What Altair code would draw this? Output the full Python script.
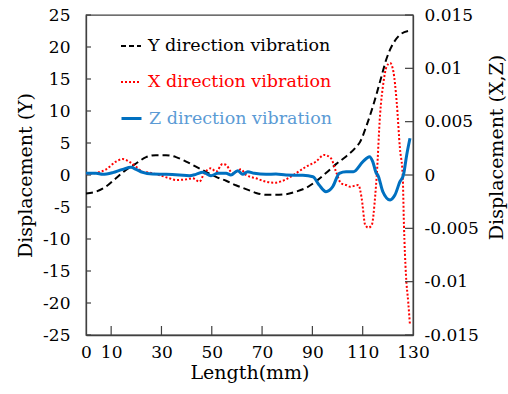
import altair as alt
import pandas as pd

# ---- data ----
y_len = [0, 4, 8, 11.9, 15.9, 19.9, 23.9, 27.8, 31.8, 35.8, 39.8, 43.7, 47.7, 51.7, 55.7,
         59.6, 63.6, 67.6, 71.6, 75.5, 79.5, 83.5, 87.5, 91.4, 95.4, 99.4, 103.4, 107, 109,
         111.6, 114.2, 116.9, 119.5, 122.2, 124.8, 128.1]
y_disp = [-2.9, -2.6, -1.8, -0.5, 0.8, 1.8, 2.8, 3.1, 3.1, 2.8, 2.1, 1.3, 0.5, -0.3, -0.9,
          -1.6, -2.2, -2.8, -3.1, -3.1, -3.0, -2.6, -2.0, -1.0, 0.3, 1.7, 2.9, 4.2, 5.2,
          7.8, 10.9, 14.6, 18.2, 20.6, 21.9, 22.5]

# X and Z displacement in units of 0.001
x_len = [0, 4, 8, 11.9, 14.6, 17.2, 19.9, 22.5, 25.2, 29.1, 33.1, 35.8, 39.8, 42.4, 45.1,
         47.0, 49.7, 51.7, 54.3, 55.7, 58.3, 61.6, 63.6, 67.6, 71.6, 74.9, 79.5, 83.5, 87.5,
         91.4, 94.7, 97.4, 99.4, 101.4, 103.4, 105.0, 108.3, 109.6, 111.0, 112.3, 113.6,
         115.0, 115.6, 116.9, 118.3, 119.5, 120.9, 122.2, 123.5, 124.8, 125.9, 126.4, 127.2,
         128.1, 128.8]
x_disp = [0.1, 0.2, 0.53, 1.25, 1.5, 1.25, 0.78, 0.31, 0.22, 0, -0.31, -0.47, -0.41, -0.31,
          -0.63, 0.16, 0.63, 0.31, 1.03, 0.94, 0.16, 0.53, 0, -0.31, -0.63, -0.72, -0.41,
          0.16, 0.78, 1.25, 1.88, 1.56, 0.31, -0.78, -0.94, -1.1, -0.94, -2.19, -4.69, -4.94,
          -4.69, -1.88, 0, 5.63, 8.75, 10.16, 10.5, 9.7, 6.9, 2.5, 0, -4.69, -9.38, -11.9,
          -14.1]

z_len = [0, 4, 6.6, 10.6, 14.6, 17.9, 19.9, 22.5, 26.5, 31.8, 37.1, 41.1, 43.7, 46.4, 49.7,
         52.4, 55.7, 57.6, 60.3, 62.3, 64.3, 66.9, 71.6, 75.5, 79.5, 86.2, 90.2, 92.7, 95.4,
         98.1, 100.7, 103.4, 106.3, 110.1, 112.7, 114.0, 115.4, 116.0, 118.0, 120.9, 122.8,
         124.8, 126.2, 127.5, 128.8]
z_disp = [0.16, 0.16, 0.06, 0.22, 0.53, 0.72, 0.53, 0.25, 0.09, 0.06, 0, -0.06, 0.06, 0.25,
          -0.06, 0.16, 0.16, 0, 0.4, 0.06, 0.31, 0.16, 0.06, 0.09, 0, -0.03, -0.16, -0.94,
          -1.56, -1.09, 0.16, 0.31, 0.31, 1.25, 1.72, 1.25, 0.16, 0, -1.56, -2.34, -1.88,
          -0.63, 0, 1.88, 3.44]

x_tick_labels = [0, 10, 30, 50, 70, 90, 110, 130]
x_inner_ticks = [10, 30, 50, 70, 90, 110]
left_ticks = [-25, -20, -15, -10, -5, 0, 5, 10, 15, 20, 25]
right_ticks = [-15, -10, -5, 0, 5, 10, 15]  # x 0.001

names = ["Y direction vibration", "X direction vibration", "Z direction vibration"]

FONT = "DejaVu Serif"
W, H = 327, 320
FRAME = "#404040"
LAB = 17
TIT = 19

dfY = pd.DataFrame({"len": y_len, "v": y_disp, "series": names[0]})
dfX = pd.DataFrame({"len": x_len, "v": x_disp, "series": names[1]})
dfZ = pd.DataFrame({"len": z_len, "v": z_disp, "series": names[2]})
dfLT = pd.DataFrame({"v": left_ticks})
dfRT = pd.DataFrame({"v": right_ticks})
dfBT = pd.DataFrame({"len": x_inner_ticks})

xscale = alt.Scale(domain=[0, 130], nice=False, zero=False)
lscale = alt.Scale(domain=[-25, 25], nice=False, zero=False)
rscale = alt.Scale(domain=[-15, 15], nice=False, zero=False)

x_axis = alt.Axis(values=x_tick_labels, labelExpr="toString(datum.value)", title="Length(mm)",
                  ticks=False, domain=True, domainColor=FRAME, domainWidth=1.3, grid=False,
                  labelFont=FONT, labelFontSize=LAB,
                  labelColor="black", labelPadding=9, labelFlush=False, labelOverlap=False,
                  titleFont=FONT, titleFontSize=TIT, titleFontWeight="normal",
                  titleColor="black", titlePadding=3)

l_axis = alt.Axis(orient="left", values=left_ticks, labelExpr="toString(datum.value)",
                  title="Displacement (Y)", ticks=False, domain=True, domainColor=FRAME,
                  domainWidth=1.3, grid=False,
                  labelFont=FONT, labelFontSize=LAB, labelColor="black",
                  labelPadding=16, labelFlush=False, labelOverlap=False,
                  titleFont=FONT, titleFontSize=TIT, titleFontWeight="normal",
                  titleColor="black", titleAngle=270, titleX=-61, titleY=160,
                  titleAlign="center", titleBaseline="middle")

r_axis = alt.Axis(orient="right", values=right_ticks,
                  labelExpr="toString(datum.value / 1000)",
                  title="Displacement (X,Z)", ticks=False, domain=True, domainColor=FRAME,
                  domainWidth=1.3, grid=False,
                  labelFont=FONT, labelFontSize=LAB, labelColor="black",
                  labelPadding=11, labelFlush=False, labelOverlap=False,
                  titleFont=FONT, titleFontSize=TIT, titleFontWeight="normal",
                  titleColor="black", titleAngle=270, titleX=83, titleY=132,
                  titleAlign="center", titleBaseline="middle")


def legend(color, text_color, width, ly, dash=None):
    kw = dict(title=None, orient="none", legendX=34, legendY=ly, symbolType="stroke",
              symbolStrokeColor=color, symbolStrokeWidth=width, symbolSize=400,
              labelColor=text_color, labelFont=FONT, labelFontSize=17.5, labelOffset=6,
              labelLimit=0, padding=0)
    if dash is not None:
        kw["symbolDash"] = dash
    return alt.Legend(**kw)


X = alt.X("len:Q", scale=xscale, axis=x_axis)

lineY = alt.Chart(dfY).mark_line(color="black", strokeDash=[7, 4], strokeWidth=2,
                                  interpolate="monotone").encode(
    x=X,
    y=alt.Y("v:Q", scale=lscale, axis=l_axis),
    color=alt.Color("series:N", scale=alt.Scale(domain=[names[0]], range=["black"]),
                    legend=legend("black", "black", 2, 20, [5, 3])),
)

ticksL = alt.Chart(dfLT).mark_rule(color=FRAME, strokeWidth=1.2).encode(
    x=alt.value(0), x2=alt.value(5),
    y=alt.Y("v:Q", scale=lscale, axis=l_axis),
)
ticksB = alt.Chart(dfBT).mark_rule(color=FRAME, strokeWidth=1.2).encode(
    x=X,
    y=alt.value(H), y2=alt.value(H - 9),
)

left = alt.layer(lineY, ticksL, ticksB)

lineX = alt.Chart(dfX).mark_line(color="#FF0000", strokeDash=[2, 2], strokeWidth=2,
                                  interpolate="monotone").encode(
    x=X,
    y=alt.Y("v:Q", scale=rscale, axis=r_axis),
    color=alt.Color("series:N", scale=alt.Scale(domain=[names[1]], range=["#FF0000"]),
                    legend=legend("#FF0000", "#FF0000", 2, 56, [2, 2])),
)

lineZ = alt.Chart(dfZ).mark_line(color="#0070C0", strokeWidth=3,
                                  interpolate="monotone").encode(
    x=X,
    y=alt.Y("v:Q", scale=rscale, axis=r_axis),
    color=alt.Color("series:N", scale=alt.Scale(domain=[names[2]], range=["#0070C0"]),
                    legend=legend("#0070C0", "#5B9BD5", 3, 92)),
)

ticksR = alt.Chart(dfRT).mark_rule(color=FRAME, strokeWidth=1.2).encode(
    x=alt.value(W - 8), x2=alt.value(W),
    y=alt.Y("v:Q", scale=rscale, axis=r_axis),
)

right = alt.layer(lineX, lineZ, ticksR).resolve_scale(color="independent")

chart = alt.layer(left, right).resolve_scale(y="independent", color="independent").properties(
    width=W, height=H,
    padding={"left": 86, "top": 15, "right": 95, "bottom": 59},
    autosize=alt.AutoSizeParams(type="none"),
).configure(background="white").configure_view(stroke=FRAME, strokeWidth=1.3)

chart.save("out.html", embed_options={"renderer": "svg", "actions": False})
